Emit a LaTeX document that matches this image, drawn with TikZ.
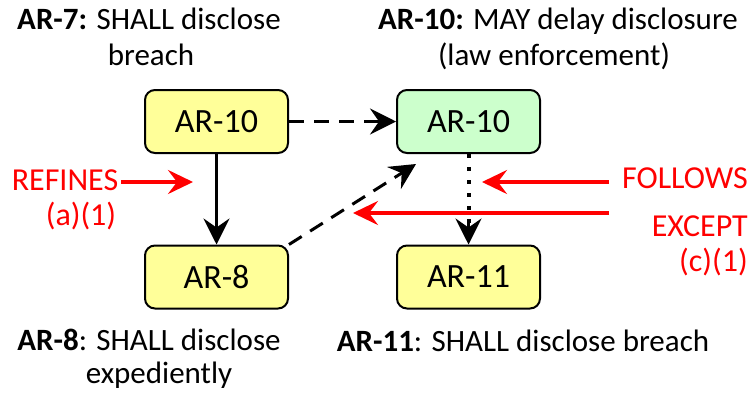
\documentclass[tikz,border=0pt]{standalone}
\usepackage{fontspec}
\setmainfont{Carlito}
\usetikzlibrary{arrows.meta,calc}
\definecolor{boxyellow}{RGB}{255,255,153}
\definecolor{boxgreen}{RGB}{204,255,204}
\definecolor{relred}{RGB}{255,0,0}
\tikzset{
  req/.style={draw=black, line width=2pt, rounded corners=10pt, minimum width=143pt, minimum height=63pt, inner sep=0pt, font=\fontsize{34}{40}\selectfont},
  lbl/.style={inner sep=0pt, anchor=base, font=\fontsize{31}{36}\selectfont},
  redlbl/.style={inner sep=0pt, text=relred, font=\fontsize{32}{38}\selectfont},
  blk/.style={line width=3pt, -{Stealth[length=26pt, width=26pt, inset=9pt]}},
  redarr/.style={draw=relred, line width=3.5pt, -{Stealth[length=25pt, width=24pt, inset=9pt]}},
}
\begin{document}
\begin{tikzpicture}[x=1pt, y=-1pt]
\useasboundingbox (0,0) rectangle (754,394);
% boxes
\node[req, fill=boxyellow] (a10) at (216.5,121.5) {AR-10};
\node[req, fill=boxgreen]  (g10) at (468.5,121.5) {AR-10};
\node[req, fill=boxyellow] (a8)  at (216.5,277) {AR-8};
\node[req, fill=boxyellow] (a11) at (468.5,277) {AR-11};
% captions
\node[lbl] (t7a) at (149,29) {\textbf{AR-7:} SHALL disclose};
\node[lbl] (t7b) at (151,65) {breach};
\node[lbl] (t10a) at (558,29) {\textbf{AR-10:} MAY delay disclosure};
\node[lbl] (t10b) at (554,65) {(law enforcement)};
\node[lbl] (t8a) at (149,350) {\textbf{AR-8}: SHALL disclose};
\node[lbl] (t8b) at (159,383) {expediently};
\node[lbl] (t11) at (523,351) {\textbf{AR-11}: SHALL disclose breach};
% red labels
\node[redlbl, anchor=base] (ref) at (65,190) {REFINES};
\node[redlbl, anchor=base] (refn) at (81,225) {(a)(1)};
\node[redlbl, anchor=base east] (fol) at (748,188) {FOLLOWS};
\node[redlbl, anchor=base east] (exc) at (748,236) {EXCEPT};
\node[redlbl, anchor=base east] (excn) at (748,271) {(c)(1)};
% coordinates for red arrows
\coordinate (refs) at (121,182);
\coordinate (refe) at (193,182);
\coordinate (fols) at (609,182);
\coordinate (fole) at (482,182);
\coordinate (excs) at (609,213);
\coordinate (exce) at (353,213);
% black connectors
\draw[blk, dash pattern=on 15pt off 10pt] (a10.east) -- (g10.west);
\draw[blk] (a10.south) -- (a8.north);
\draw[line width=4pt, dash pattern=on 4pt off 9pt] (g10.south) -- ($(a11.north)+(0,-20)$);
\draw[blk] ($(a11.north)+(0,-22)$) -- (a11.north);
\draw[blk, dash pattern=on 15pt off 10pt] (a8.north east) -- ($(g10.south west)+(20,10)$);
% red connectors
\draw[redarr] (refs) -- (refe);
\draw[redarr] (fols) -- (fole);
\draw[redarr] (excs) -- (exce);
\end{tikzpicture}
\end{document}
